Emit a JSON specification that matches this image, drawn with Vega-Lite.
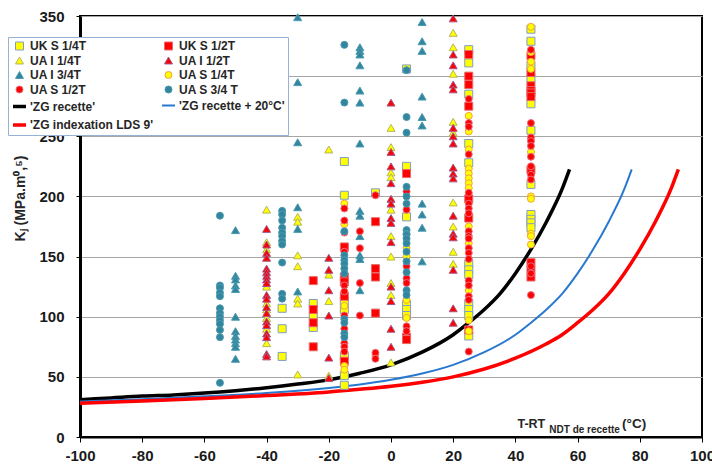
{
  "$schema": "https://vega.github.io/schema/vega-lite/v6.json",
  "width": 622,
  "height": 421,
  "autosize": {"type": "none"},
  "padding": {"left": 80, "top": 16, "right": 10, "bottom": 29},
  "background": "#ffffff",
  "datasets": {
    "one": [{"k": 1}],
    "ann": [
      {"t": "T-RT", "x": 49.6, "y": 10.8},
      {"t": "NDT de recette", "x": 50.9, "y": 5.8},
      {"t": "(°C)", "x": 74.3, "y": 10.8}
    ],
    "curves": [
      {"s": "'ZG recette'", "x": -100, "y": 31}, {"s": "'ZG recette'", "x": -90, "y": 32.5}, {"s": "'ZG recette'", "x": -80, "y": 34}, {"s": "'ZG recette'", "x": -70, "y": 35}, {"s": "'ZG recette'", "x": -60, "y": 36.5}, {"s": "'ZG recette'", "x": -50, "y": 38.5}, {"s": "'ZG recette'", "x": -40, "y": 41}, {"s": "'ZG recette'", "x": -30, "y": 44}, {"s": "'ZG recette'", "x": -20, "y": 47.5}, {"s": "'ZG recette'", "x": -10, "y": 53}, {"s": "'ZG recette'", "x": 0, "y": 60}, {"s": "'ZG recette'", "x": 10, "y": 70.5}, {"s": "'ZG recette'", "x": 20, "y": 85}, {"s": "'ZG recette'", "x": 25, "y": 95}, {"s": "'ZG recette'", "x": 30, "y": 106}, {"s": "'ZG recette'", "x": 35, "y": 119}, {"s": "'ZG recette'", "x": 40, "y": 136}, {"s": "'ZG recette'", "x": 45, "y": 156}, {"s": "'ZG recette'", "x": 50, "y": 179}, {"s": "'ZG recette'", "x": 55, "y": 206}, {"s": "'ZG recette'", "x": 57.4, "y": 222.5},
      {"s": "'ZG recette + 20°C'", "x": -100, "y": 29.5}, {"s": "'ZG recette + 20°C'", "x": -80, "y": 31.4}, {"s": "'ZG recette + 20°C'", "x": -60, "y": 33.8}, {"s": "'ZG recette + 20°C'", "x": -40, "y": 36.6}, {"s": "'ZG recette + 20°C'", "x": -20, "y": 40.8}, {"s": "'ZG recette + 20°C'", "x": -10, "y": 43.7}, {"s": "'ZG recette + 20°C'", "x": 0, "y": 47.6}, {"s": "'ZG recette + 20°C'", "x": 10, "y": 52.8}, {"s": "'ZG recette + 20°C'", "x": 20, "y": 60}, {"s": "'ZG recette + 20°C'", "x": 30, "y": 70.5}, {"s": "'ZG recette + 20°C'", "x": 40, "y": 85}, {"s": "'ZG recette + 20°C'", "x": 45, "y": 95}, {"s": "'ZG recette + 20°C'", "x": 50, "y": 106}, {"s": "'ZG recette + 20°C'", "x": 55, "y": 119}, {"s": "'ZG recette + 20°C'", "x": 60, "y": 136}, {"s": "'ZG recette + 20°C'", "x": 65, "y": 156}, {"s": "'ZG recette + 20°C'", "x": 70, "y": 179}, {"s": "'ZG recette + 20°C'", "x": 75, "y": 206}, {"s": "'ZG recette + 20°C'", "x": 77.4, "y": 222.5},
      {"s": "'ZG indexation LDS 9'", "x": -100, "y": 28}, {"s": "'ZG indexation LDS 9'", "x": -80, "y": 29.9}, {"s": "'ZG indexation LDS 9'", "x": -60, "y": 32}, {"s": "'ZG indexation LDS 9'", "x": -40, "y": 34.4}, {"s": "'ZG indexation LDS 9'", "x": -20, "y": 37.5}, {"s": "'ZG indexation LDS 9'", "x": 0, "y": 42.1}, {"s": "'ZG indexation LDS 9'", "x": 10, "y": 45.5}, {"s": "'ZG indexation LDS 9'", "x": 20, "y": 50}, {"s": "'ZG indexation LDS 9'", "x": 30, "y": 56.5}, {"s": "'ZG indexation LDS 9'", "x": 40, "y": 65.5}, {"s": "'ZG indexation LDS 9'", "x": 50, "y": 77.5}, {"s": "'ZG indexation LDS 9'", "x": 55, "y": 85}, {"s": "'ZG indexation LDS 9'", "x": 60, "y": 95}, {"s": "'ZG indexation LDS 9'", "x": 65, "y": 106}, {"s": "'ZG indexation LDS 9'", "x": 70, "y": 119}, {"s": "'ZG indexation LDS 9'", "x": 75, "y": 136}, {"s": "'ZG indexation LDS 9'", "x": 80, "y": 156}, {"s": "'ZG indexation LDS 9'", "x": 85, "y": 179}, {"s": "'ZG indexation LDS 9'", "x": 90, "y": 206}, {"s": "'ZG indexation LDS 9'", "x": 92.4, "y": 222.5}
    ],
    "pts": [
      {"s": "UK S 1/4T", "x": -35, "y": 107}, {"s": "UK S 1/4T", "x": -35, "y": 90}, {"s": "UK S 1/4T", "x": -35, "y": 67},
      {"s": "UK S 1/4T", "x": -25, "y": 111}, {"s": "UK S 1/4T", "x": -25, "y": 100}, {"s": "UK S 1/4T", "x": -25, "y": 91},
      {"s": "UK S 1/4T", "x": -15, "y": 229}, {"s": "UK S 1/4T", "x": -15, "y": 201}, {"s": "UK S 1/4T", "x": -15, "y": 113}, {"s": "UK S 1/4T", "x": -15, "y": 106}, {"s": "UK S 1/4T", "x": -15, "y": 67}, {"s": "UK S 1/4T", "x": -15, "y": 51}, {"s": "UK S 1/4T", "x": -15, "y": 43},
      {"s": "UK S 1/4T", "x": -5, "y": 203},
      {"s": "UK S 1/4T", "x": 5, "y": 306}, {"s": "UK S 1/4T", "x": 5, "y": 225}, {"s": "UK S 1/4T", "x": 5, "y": 183}, {"s": "UK S 1/4T", "x": 5, "y": 110}, {"s": "UK S 1/4T", "x": 5, "y": 106}, {"s": "UK S 1/4T", "x": 5, "y": 101},
      {"s": "UK S 1/4T", "x": 25, "y": 322}, {"s": "UK S 1/4T", "x": 25, "y": 311}, {"s": "UK S 1/4T", "x": 25, "y": 285}, {"s": "UK S 1/4T", "x": 25, "y": 244}, {"s": "UK S 1/4T", "x": 25, "y": 228}, {"s": "UK S 1/4T", "x": 25, "y": 144}, {"s": "UK S 1/4T", "x": 25, "y": 139}, {"s": "UK S 1/4T", "x": 25, "y": 135}, {"s": "UK S 1/4T", "x": 25, "y": 111}, {"s": "UK S 1/4T", "x": 25, "y": 106}, {"s": "UK S 1/4T", "x": 25, "y": 101}, {"s": "UK S 1/4T", "x": 25, "y": 84},
      {"s": "UK S 1/4T", "x": 45, "y": 339}, {"s": "UK S 1/4T", "x": 45, "y": 329}, {"s": "UK S 1/4T", "x": 45, "y": 309}, {"s": "UK S 1/4T", "x": 45, "y": 298}, {"s": "UK S 1/4T", "x": 45, "y": 277}, {"s": "UK S 1/4T", "x": 45, "y": 255}, {"s": "UK S 1/4T", "x": 45, "y": 210}, {"s": "UK S 1/4T", "x": 45, "y": 185}, {"s": "UK S 1/4T", "x": 45, "y": 181}, {"s": "UK S 1/4T", "x": 45, "y": 178}, {"s": "UK S 1/4T", "x": 45, "y": 174},
      {"s": "UK S 1/2T", "x": -25, "y": 130}, {"s": "UK S 1/2T", "x": -25, "y": 106}, {"s": "UK S 1/2T", "x": -25, "y": 95}, {"s": "UK S 1/2T", "x": -25, "y": 75},
      {"s": "UK S 1/2T", "x": -15, "y": 158}, {"s": "UK S 1/2T", "x": -15, "y": 133}, {"s": "UK S 1/2T", "x": -15, "y": 129}, {"s": "UK S 1/2T", "x": -15, "y": 117}, {"s": "UK S 1/2T", "x": -15, "y": 63},
      {"s": "UK S 1/2T", "x": -5, "y": 179}, {"s": "UK S 1/2T", "x": -5, "y": 140}, {"s": "UK S 1/2T", "x": -5, "y": 133}, {"s": "UK S 1/2T", "x": -5, "y": 103},
      {"s": "UK S 1/2T", "x": 5, "y": 219}, {"s": "UK S 1/2T", "x": 5, "y": 83}, {"s": "UK S 1/2T", "x": 5, "y": 81},
      {"s": "UK S 1/2T", "x": 25, "y": 318}, {"s": "UK S 1/2T", "x": 25, "y": 300}, {"s": "UK S 1/2T", "x": 25, "y": 293}, {"s": "UK S 1/2T", "x": 25, "y": 275}, {"s": "UK S 1/2T", "x": 25, "y": 198}, {"s": "UK S 1/2T", "x": 25, "y": 182}, {"s": "UK S 1/2T", "x": 25, "y": 89},
      {"s": "UK S 1/2T", "x": 45, "y": 317}, {"s": "UK S 1/2T", "x": 45, "y": 303}, {"s": "UK S 1/2T", "x": 45, "y": 292}, {"s": "UK S 1/2T", "x": 45, "y": 288}, {"s": "UK S 1/2T", "x": 45, "y": 286}, {"s": "UK S 1/2T", "x": 45, "y": 283}, {"s": "UK S 1/2T", "x": 45, "y": 222}, {"s": "UK S 1/2T", "x": 45, "y": 145}, {"s": "UK S 1/2T", "x": 45, "y": 139}, {"s": "UK S 1/2T", "x": 45, "y": 133},
      {"s": "UA I 1/4T", "x": -40, "y": 189}, {"s": "UA I 1/4T", "x": -40, "y": 162}, {"s": "UA I 1/4T", "x": -40, "y": 156}, {"s": "UA I 1/4T", "x": -40, "y": 125}, {"s": "UA I 1/4T", "x": -40, "y": 111}, {"s": "UA I 1/4T", "x": -40, "y": 106}, {"s": "UA I 1/4T", "x": -40, "y": 99}, {"s": "UA I 1/4T", "x": -40, "y": 90}, {"s": "UA I 1/4T", "x": -40, "y": 78},
      {"s": "UA I 1/4T", "x": -30, "y": 183}, {"s": "UA I 1/4T", "x": -30, "y": 179}, {"s": "UA I 1/4T", "x": -30, "y": 151}, {"s": "UA I 1/4T", "x": -30, "y": 142}, {"s": "UA I 1/4T", "x": -30, "y": 115}, {"s": "UA I 1/4T", "x": -30, "y": 111}, {"s": "UA I 1/4T", "x": -30, "y": 52},
      {"s": "UA I 1/4T", "x": -20, "y": 239}, {"s": "UA I 1/4T", "x": -20, "y": 135}, {"s": "UA I 1/4T", "x": -20, "y": 113}, {"s": "UA I 1/4T", "x": -20, "y": 51},
      {"s": "UA I 1/4T", "x": 0, "y": 257}, {"s": "UA I 1/4T", "x": 0, "y": 241}, {"s": "UA I 1/4T", "x": 0, "y": 220}, {"s": "UA I 1/4T", "x": 0, "y": 216}, {"s": "UA I 1/4T", "x": 0, "y": 189}, {"s": "UA I 1/4T", "x": 0, "y": 167}, {"s": "UA I 1/4T", "x": 0, "y": 150}, {"s": "UA I 1/4T", "x": 0, "y": 128}, {"s": "UA I 1/4T", "x": 0, "y": 118}, {"s": "UA I 1/4T", "x": 0, "y": 62},
      {"s": "UA I 1/4T", "x": 20, "y": 336}, {"s": "UA I 1/4T", "x": 20, "y": 324}, {"s": "UA I 1/4T", "x": 20, "y": 302}, {"s": "UA I 1/4T", "x": 20, "y": 262}, {"s": "UA I 1/4T", "x": 20, "y": 253}, {"s": "UA I 1/4T", "x": 20, "y": 195}, {"s": "UA I 1/4T", "x": 20, "y": 175}, {"s": "UA I 1/4T", "x": 20, "y": 154}, {"s": "UA I 1/4T", "x": 20, "y": 144},
      {"s": "UA I 1/2T", "x": -40, "y": 173}, {"s": "UA I 1/2T", "x": -40, "y": 160}, {"s": "UA I 1/2T", "x": -40, "y": 153}, {"s": "UA I 1/2T", "x": -40, "y": 149}, {"s": "UA I 1/2T", "x": -40, "y": 140}, {"s": "UA I 1/2T", "x": -40, "y": 137}, {"s": "UA I 1/2T", "x": -40, "y": 134}, {"s": "UA I 1/2T", "x": -40, "y": 131}, {"s": "UA I 1/2T", "x": -40, "y": 128}, {"s": "UA I 1/2T", "x": -40, "y": 118}, {"s": "UA I 1/2T", "x": -40, "y": 115}, {"s": "UA I 1/2T", "x": -40, "y": 108}, {"s": "UA I 1/2T", "x": -40, "y": 103}, {"s": "UA I 1/2T", "x": -40, "y": 96}, {"s": "UA I 1/2T", "x": -40, "y": 93}, {"s": "UA I 1/2T", "x": -40, "y": 86}, {"s": "UA I 1/2T", "x": -40, "y": 83}, {"s": "UA I 1/2T", "x": -40, "y": 69}, {"s": "UA I 1/2T", "x": -40, "y": 67},
      {"s": "UA I 1/2T", "x": -20, "y": 149}, {"s": "UA I 1/2T", "x": -20, "y": 139}, {"s": "UA I 1/2T", "x": -20, "y": 122}, {"s": "UA I 1/2T", "x": -20, "y": 101}, {"s": "UA I 1/2T", "x": -20, "y": 66}, {"s": "UA I 1/2T", "x": -20, "y": 49},
      {"s": "UA I 1/2T", "x": 0, "y": 278}, {"s": "UA I 1/2T", "x": 0, "y": 237}, {"s": "UA I 1/2T", "x": 0, "y": 225}, {"s": "UA I 1/2T", "x": 0, "y": 211}, {"s": "UA I 1/2T", "x": 0, "y": 198}, {"s": "UA I 1/2T", "x": 0, "y": 194}, {"s": "UA I 1/2T", "x": 0, "y": 182}, {"s": "UA I 1/2T", "x": 0, "y": 178}, {"s": "UA I 1/2T", "x": 0, "y": 162}, {"s": "UA I 1/2T", "x": 0, "y": 125}, {"s": "UA I 1/2T", "x": 0, "y": 113}, {"s": "UA I 1/2T", "x": 0, "y": 90}, {"s": "UA I 1/2T", "x": 0, "y": 75},
      {"s": "UA I 1/2T", "x": 20, "y": 348}, {"s": "UA I 1/2T", "x": 20, "y": 318}, {"s": "UA I 1/2T", "x": 20, "y": 309}, {"s": "UA I 1/2T", "x": 20, "y": 293}, {"s": "UA I 1/2T", "x": 20, "y": 289}, {"s": "UA I 1/2T", "x": 20, "y": 257}, {"s": "UA I 1/2T", "x": 20, "y": 250}, {"s": "UA I 1/2T", "x": 20, "y": 244}, {"s": "UA I 1/2T", "x": 20, "y": 224}, {"s": "UA I 1/2T", "x": 20, "y": 219}, {"s": "UA I 1/2T", "x": 20, "y": 215}, {"s": "UA I 1/2T", "x": 20, "y": 184}, {"s": "UA I 1/2T", "x": 20, "y": 169}, {"s": "UA I 1/2T", "x": 20, "y": 166}, {"s": "UA I 1/2T", "x": 20, "y": 139}, {"s": "UA I 1/2T", "x": 20, "y": 107}, {"s": "UA I 1/2T", "x": 20, "y": 95},
      {"s": "UA I 3/4T", "x": -50, "y": 172}, {"s": "UA I 3/4T", "x": -50, "y": 134}, {"s": "UA I 3/4T", "x": -50, "y": 131}, {"s": "UA I 3/4T", "x": -50, "y": 126}, {"s": "UA I 3/4T", "x": -50, "y": 123}, {"s": "UA I 3/4T", "x": -50, "y": 100}, {"s": "UA I 3/4T", "x": -50, "y": 88}, {"s": "UA I 3/4T", "x": -50, "y": 84}, {"s": "UA I 3/4T", "x": -50, "y": 81}, {"s": "UA I 3/4T", "x": -50, "y": 78}, {"s": "UA I 3/4T", "x": -50, "y": 75}, {"s": "UA I 3/4T", "x": -50, "y": 65},
      {"s": "UA I 3/4T", "x": -30, "y": 349}, {"s": "UA I 3/4T", "x": -30, "y": 295}, {"s": "UA I 3/4T", "x": -30, "y": 245}, {"s": "UA I 3/4T", "x": -30, "y": 191}, {"s": "UA I 3/4T", "x": -30, "y": 173}, {"s": "UA I 3/4T", "x": -30, "y": 121},
      {"s": "UA I 3/4T", "x": -10, "y": 324}, {"s": "UA I 3/4T", "x": -10, "y": 321}, {"s": "UA I 3/4T", "x": -10, "y": 318}, {"s": "UA I 3/4T", "x": -10, "y": 309}, {"s": "UA I 3/4T", "x": -10, "y": 288}, {"s": "UA I 3/4T", "x": -10, "y": 278}, {"s": "UA I 3/4T", "x": -10, "y": 244}, {"s": "UA I 3/4T", "x": -10, "y": 188}, {"s": "UA I 3/4T", "x": -10, "y": 184}, {"s": "UA I 3/4T", "x": -10, "y": 167}, {"s": "UA I 3/4T", "x": -10, "y": 151}, {"s": "UA I 3/4T", "x": -10, "y": 148}, {"s": "UA I 3/4T", "x": -10, "y": 122},
      {"s": "UA I 3/4T", "x": 10, "y": 345}, {"s": "UA I 3/4T", "x": 10, "y": 329}, {"s": "UA I 3/4T", "x": 10, "y": 321}, {"s": "UA I 3/4T", "x": 10, "y": 283}, {"s": "UA I 3/4T", "x": 10, "y": 266}, {"s": "UA I 3/4T", "x": 10, "y": 259}, {"s": "UA I 3/4T", "x": 10, "y": 194}, {"s": "UA I 3/4T", "x": 10, "y": 185}, {"s": "UA I 3/4T", "x": 10, "y": 174}, {"s": "UA I 3/4T", "x": 10, "y": 146},
      {"s": "UA S 1/4T", "x": -15, "y": 194}, {"s": "UA S 1/4T", "x": -15, "y": 177}, {"s": "UA S 1/4T", "x": -15, "y": 109}, {"s": "UA S 1/4T", "x": -15, "y": 59}, {"s": "UA S 1/4T", "x": -15, "y": 56},
      {"s": "UA S 1/4T", "x": -5, "y": 68},
      {"s": "UA S 1/4T", "x": 5, "y": 157}, {"s": "UA S 1/4T", "x": 5, "y": 150}, {"s": "UA S 1/4T", "x": 5, "y": 114}, {"s": "UA S 1/4T", "x": 5, "y": 99},
      {"s": "UA S 1/4T", "x": 25, "y": 267}, {"s": "UA S 1/4T", "x": 25, "y": 254}, {"s": "UA S 1/4T", "x": 25, "y": 239}, {"s": "UA S 1/4T", "x": 25, "y": 223}, {"s": "UA S 1/4T", "x": 25, "y": 219}, {"s": "UA S 1/4T", "x": 25, "y": 215}, {"s": "UA S 1/4T", "x": 25, "y": 211}, {"s": "UA S 1/4T", "x": 25, "y": 207}, {"s": "UA S 1/4T", "x": 25, "y": 175}, {"s": "UA S 1/4T", "x": 25, "y": 161}, {"s": "UA S 1/4T", "x": 25, "y": 122}, {"s": "UA S 1/4T", "x": 25, "y": 97}, {"s": "UA S 1/4T", "x": 25, "y": 88},
      {"s": "UA S 1/4T", "x": 45, "y": 341}, {"s": "UA S 1/4T", "x": 45, "y": 320}, {"s": "UA S 1/4T", "x": 45, "y": 312}, {"s": "UA S 1/4T", "x": 45, "y": 306}, {"s": "UA S 1/4T", "x": 45, "y": 237}, {"s": "UA S 1/4T", "x": 45, "y": 200}, {"s": "UA S 1/4T", "x": 45, "y": 198}, {"s": "UA S 1/4T", "x": 45, "y": 169}, {"s": "UA S 1/4T", "x": 45, "y": 167}, {"s": "UA S 1/4T", "x": 45, "y": 160},
      {"s": "UA S 1/2T", "x": -15, "y": 190}, {"s": "UA S 1/2T", "x": -15, "y": 180}, {"s": "UA S 1/2T", "x": -15, "y": 170}, {"s": "UA S 1/2T", "x": -15, "y": 154}, {"s": "UA S 1/2T", "x": -15, "y": 126}, {"s": "UA S 1/2T", "x": -15, "y": 121}, {"s": "UA S 1/2T", "x": -15, "y": 101}, {"s": "UA S 1/2T", "x": -15, "y": 90}, {"s": "UA S 1/2T", "x": -15, "y": 78}, {"s": "UA S 1/2T", "x": -15, "y": 75}, {"s": "UA S 1/2T", "x": -15, "y": 71},
      {"s": "UA S 1/2T", "x": -10, "y": 171}, {"s": "UA S 1/2T", "x": -10, "y": 157}, {"s": "UA S 1/2T", "x": -10, "y": 128}, {"s": "UA S 1/2T", "x": -10, "y": 101},
      {"s": "UA S 1/2T", "x": -5, "y": 201}, {"s": "UA S 1/2T", "x": -5, "y": 70}, {"s": "UA S 1/2T", "x": -5, "y": 65},
      {"s": "UA S 1/2T", "x": 5, "y": 204}, {"s": "UA S 1/2T", "x": 5, "y": 189}, {"s": "UA S 1/2T", "x": 5, "y": 142}, {"s": "UA S 1/2T", "x": 5, "y": 132}, {"s": "UA S 1/2T", "x": 5, "y": 128}, {"s": "UA S 1/2T", "x": 5, "y": 92}, {"s": "UA S 1/2T", "x": 5, "y": 88},
      {"s": "UA S 1/2T", "x": 25, "y": 281}, {"s": "UA S 1/2T", "x": 25, "y": 261}, {"s": "UA S 1/2T", "x": 25, "y": 258}, {"s": "UA S 1/2T", "x": 25, "y": 235}, {"s": "UA S 1/2T", "x": 25, "y": 203}, {"s": "UA S 1/2T", "x": 25, "y": 194}, {"s": "UA S 1/2T", "x": 25, "y": 190}, {"s": "UA S 1/2T", "x": 25, "y": 186}, {"s": "UA S 1/2T", "x": 25, "y": 171}, {"s": "UA S 1/2T", "x": 25, "y": 167}, {"s": "UA S 1/2T", "x": 25, "y": 165}, {"s": "UA S 1/2T", "x": 25, "y": 157}, {"s": "UA S 1/2T", "x": 25, "y": 153}, {"s": "UA S 1/2T", "x": 25, "y": 148}, {"s": "UA S 1/2T", "x": 25, "y": 130}, {"s": "UA S 1/2T", "x": 25, "y": 126}, {"s": "UA S 1/2T", "x": 25, "y": 117}, {"s": "UA S 1/2T", "x": 25, "y": 114}, {"s": "UA S 1/2T", "x": 25, "y": 71},
      {"s": "UA S 1/2T", "x": 45, "y": 322}, {"s": "UA S 1/2T", "x": 45, "y": 261}, {"s": "UA S 1/2T", "x": 45, "y": 249}, {"s": "UA S 1/2T", "x": 45, "y": 246}, {"s": "UA S 1/2T", "x": 45, "y": 242}, {"s": "UA S 1/2T", "x": 45, "y": 233}, {"s": "UA S 1/2T", "x": 45, "y": 225}, {"s": "UA S 1/2T", "x": 45, "y": 218}, {"s": "UA S 1/2T", "x": 45, "y": 214}, {"s": "UA S 1/2T", "x": 45, "y": 142}, {"s": "UA S 1/2T", "x": 45, "y": 136}, {"s": "UA S 1/2T", "x": 45, "y": 118},
      {"s": "UA S 3/4 T", "x": -55, "y": 184}, {"s": "UA S 3/4 T", "x": -55, "y": 126}, {"s": "UA S 3/4 T", "x": -55, "y": 124}, {"s": "UA S 3/4 T", "x": -55, "y": 120}, {"s": "UA S 3/4 T", "x": -55, "y": 117}, {"s": "UA S 3/4 T", "x": -55, "y": 107}, {"s": "UA S 3/4 T", "x": -55, "y": 103}, {"s": "UA S 3/4 T", "x": -55, "y": 100}, {"s": "UA S 3/4 T", "x": -55, "y": 97}, {"s": "UA S 3/4 T", "x": -55, "y": 94}, {"s": "UA S 3/4 T", "x": -55, "y": 89}, {"s": "UA S 3/4 T", "x": -55, "y": 83}, {"s": "UA S 3/4 T", "x": -55, "y": 45},
      {"s": "UA S 3/4 T", "x": -35, "y": 188}, {"s": "UA S 3/4 T", "x": -35, "y": 185}, {"s": "UA S 3/4 T", "x": -35, "y": 180}, {"s": "UA S 3/4 T", "x": -35, "y": 174}, {"s": "UA S 3/4 T", "x": -35, "y": 170}, {"s": "UA S 3/4 T", "x": -35, "y": 167}, {"s": "UA S 3/4 T", "x": -35, "y": 163}, {"s": "UA S 3/4 T", "x": -35, "y": 160}, {"s": "UA S 3/4 T", "x": -35, "y": 145}, {"s": "UA S 3/4 T", "x": -35, "y": 119}, {"s": "UA S 3/4 T", "x": -35, "y": 115},
      {"s": "UA S 3/4 T", "x": -15, "y": 326}, {"s": "UA S 3/4 T", "x": -15, "y": 278}, {"s": "UA S 3/4 T", "x": -15, "y": 171}, {"s": "UA S 3/4 T", "x": -15, "y": 151}, {"s": "UA S 3/4 T", "x": -15, "y": 147}, {"s": "UA S 3/4 T", "x": -15, "y": 144}, {"s": "UA S 3/4 T", "x": -15, "y": 140}, {"s": "UA S 3/4 T", "x": -15, "y": 136}, {"s": "UA S 3/4 T", "x": -15, "y": 98}, {"s": "UA S 3/4 T", "x": -15, "y": 95}, {"s": "UA S 3/4 T", "x": -15, "y": 86}, {"s": "UA S 3/4 T", "x": -15, "y": 83},
      {"s": "UA S 3/4 T", "x": 5, "y": 305}, {"s": "UA S 3/4 T", "x": 5, "y": 266}, {"s": "UA S 3/4 T", "x": 5, "y": 253}, {"s": "UA S 3/4 T", "x": 5, "y": 208}, {"s": "UA S 3/4 T", "x": 5, "y": 200}, {"s": "UA S 3/4 T", "x": 5, "y": 194}, {"s": "UA S 3/4 T", "x": 5, "y": 172}, {"s": "UA S 3/4 T", "x": 5, "y": 169}, {"s": "UA S 3/4 T", "x": 5, "y": 168}, {"s": "UA S 3/4 T", "x": 5, "y": 165}, {"s": "UA S 3/4 T", "x": 5, "y": 161}, {"s": "UA S 3/4 T", "x": 5, "y": 154}, {"s": "UA S 3/4 T", "x": 5, "y": 146}, {"s": "UA S 3/4 T", "x": 5, "y": 137}, {"s": "UA S 3/4 T", "x": 5, "y": 122}, {"s": "UA S 3/4 T", "x": 5, "y": 118}
    ]
  },
  "encoding": {
    "x": {
      "field": "x", "type": "quantitative",
      "scale": {"domain": [-100, 100], "nice": false, "zero": false},
      "axis": {
        "values": [-100, -80, -60, -40, -20, 0, 20, 40, 60, 80, 100],
        "title": null, "grid": false, "format": "d",
        "labelExpr": "replace(datum.label, '−', '-')",
        "domainColor": "#000000", "domainWidth": 2,
        "tickColor": "#000000", "tickSize": 5,
        "labelFontSize": 15, "labelFontWeight": "bold", "labelColor": "#1a1a1a",
        "labelPadding": 6, "labelFlush": false, "labelOverlap": false
      }
    },
    "y": {
      "field": "y", "type": "quantitative",
      "scale": {"domain": [0, 350], "nice": false},
      "axis": {
        "values": [0, 50, 100, 150, 200, 250, 300, 350],
        "grid": true, "gridColor": "#A6A6A6", "gridWidth": 1, "format": "d",
        "domainColor": "#000000", "domainWidth": 3,
        "tickColor": "#000000", "tickSize": 4,
        "labelFontSize": 15, "labelFontWeight": "bold", "labelColor": "#1a1a1a",
        "labelPadding": 12, "labelFlush": false,
        "title": "Kⱼ (MPa.m⁰,⁵)",
        "titleFontSize": 14, "titleFontWeight": "bold", "titleColor": "#262626",
        "titleX": -60, "titleY": 182, "titleAngle": 270, "titleBaseline": "middle", "titleAlign": "center"
      }
    }
  },
  "layer": [
    {
      "data": {"name": "one"},
      "mark": {"type": "rule", "color": "#C4C4C4", "strokeWidth": 1},
      "encoding": {
        "x": {"datum": 0, "type": "quantitative"},
        "y": {"datum": 0, "type": "quantitative"},
        "y2": {"datum": 350}
      }
    },
    {
      "data": {"name": "curves"},
      "mark": {"type": "line", "interpolate": "monotone", "opacity": 1},
      "encoding": {
        "stroke": {
          "field": "s", "type": "nominal",
          "scale": {
            "domain": ["UK S 1/4T", "UA I 1/4T", "UA I 3/4T", "UA S 1/2T", "'ZG recette'", "'ZG indexation LDS 9'", "UK S 1/2T", "UA I 1/2T", "UA S 1/4T", "UA S 3/4 T", "'ZG recette + 20°C'"],
            "range": ["#7F9CC8", "#B5B55C", "#4A9AB0", "#E87080", "#000000", "#FF0000", "#E86A6A", "#A05A8C", "#F5A040", "#4A9AB0", "#2878D0"]
          }
        },
        "strokeWidth": {
          "field": "s", "type": "nominal",
          "scale": {
            "type": "ordinal",
            "domain": ["UK S 1/4T", "UA I 1/4T", "UA I 3/4T", "UA S 1/2T", "'ZG recette'", "'ZG indexation LDS 9'", "UK S 1/2T", "UA I 1/2T", "UA S 1/4T", "UA S 3/4 T", "'ZG recette + 20°C'"],
            "range": [1, 1, 1, 1, 3.5, 3.5, 1, 1, 1, 1, 2]
          }
        }
      }
    },
    {
      "data": {"name": "pts"},
      "mark": {"type": "point", "filled": true, "opacity": 1},
      "encoding": {
        "shape": {
          "field": "s", "type": "nominal",
          "scale": {
            "domain": ["UK S 1/4T", "UA I 1/4T", "UA I 3/4T", "UA S 1/2T", "'ZG recette'", "'ZG indexation LDS 9'", "UK S 1/2T", "UA I 1/2T", "UA S 1/4T", "UA S 3/4 T", "'ZG recette + 20°C'"],
            "range": ["square", "triangle-up", "triangle-up", "circle", "stroke", "stroke", "square", "triangle-up", "circle", "circle", "stroke"]
          }
        },
        "fill": {
          "field": "s", "type": "nominal",
          "scale": {
            "domain": ["UK S 1/4T", "UA I 1/4T", "UA I 3/4T", "UA S 1/2T", "'ZG recette'", "'ZG indexation LDS 9'", "UK S 1/2T", "UA I 1/2T", "UA S 1/4T", "UA S 3/4 T", "'ZG recette + 20°C'"],
            "range": ["#FFFF00", "#FFFF00", "#31859C", "#FF0000", "transparent", "transparent", "#FF0000", "#FF0000", "#FFFF00", "#31859C", "transparent"]
          }
        },
        "stroke": {
          "field": "s", "type": "nominal",
          "scale": {
            "domain": ["UK S 1/4T", "UA I 1/4T", "UA I 3/4T", "UA S 1/2T", "'ZG recette'", "'ZG indexation LDS 9'", "UK S 1/2T", "UA I 1/2T", "UA S 1/4T", "UA S 3/4 T", "'ZG recette + 20°C'"],
            "range": ["#7F9CC8", "#B5B55C", "#4A9AB0", "#E87080", "#000000", "#FF0000", "#E86A6A", "#A05A8C", "#F5A040", "#4A9AB0", "#2878D0"]
          }
        },
        "strokeWidth": {
          "field": "s", "type": "nominal",
          "scale": {
            "type": "ordinal",
            "domain": ["UK S 1/4T", "UA I 1/4T", "UA I 3/4T", "UA S 1/2T", "'ZG recette'", "'ZG indexation LDS 9'", "UK S 1/2T", "UA I 1/2T", "UA S 1/4T", "UA S 3/4 T", "'ZG recette + 20°C'"],
            "range": [1, 1, 1, 1, 3.5, 3.5, 1, 1, 1, 1, 2]
          }
        },
        "size": {
          "field": "s", "type": "nominal",
          "scale": {
            "type": "ordinal",
            "domain": ["UK S 1/4T", "UA I 1/4T", "UA I 3/4T", "UA S 1/2T", "'ZG recette'", "'ZG indexation LDS 9'", "UK S 1/2T", "UA I 1/2T", "UA S 1/4T", "UA S 3/4 T", "'ZG recette + 20°C'"],
            "range": [64, 64, 64, 49, 169, 169, 64, 64, 49, 49, 169]
          }
        }
      }
    },
    {
      "data": {"name": "ann"},
      "transform": [{"filter": "datum.t == 'T-RT'"}],
      "mark": {"type": "text", "align": "right", "baseline": "middle", "fontSize": 12.5, "fontWeight": "bold", "fill": "#262626"},
      "encoding": {"text": {"field": "t"}}
    },
    {
      "data": {"name": "ann"},
      "transform": [{"filter": "datum.t == 'NDT de recette'"}],
      "mark": {"type": "text", "align": "left", "baseline": "middle", "fontSize": 10, "fontWeight": "bold", "fill": "#262626"},
      "encoding": {"text": {"field": "t"}}
    },
    {
      "data": {"name": "ann"},
      "transform": [{"filter": "datum.t == '(°C)'"}],
      "mark": {"type": "text", "align": "left", "baseline": "middle", "fontSize": 13.5, "fontWeight": "bold", "fill": "#262626"},
      "encoding": {"text": {"field": "t"}}
    }
  ],
  "config": {
    "font": "Liberation Sans",
    "view": {"stroke": "#000000", "strokeWidth": 2},
    "legend": {
      "orient": "none", "legendX": -72, "legendY": 21,
      "columns": 2, "title": null,
      "padding": 3, "fillColor": "#ffffff", "strokeColor": "#95B3D7", "strokeWidth": 1,
      "labelFontSize": 12, "labelFontWeight": "bold", "labelColor": "#262626",
      "labelOffset": 2, "rowPadding": 2.5, "columnPadding": 4, "labelLimit": 0
    }
  }
}
